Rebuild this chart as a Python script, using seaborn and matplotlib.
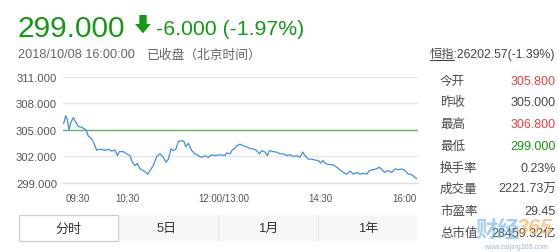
import matplotlib
matplotlib.use("Agg")
import matplotlib.pyplot as plt
import matplotlib.transforms as mtransforms
from matplotlib.patches import Rectangle, Polygon
from matplotlib.lines import Line2D
import seaborn as sns
import pandas as pd

# ---------------- data ----------------
minutes = [0, 1, 2.5, 4, 5.6, 7.5, 9.6, 11.8, 14.3, 17.4, 20.5, 22, 23.6, 26.8, 29.2,
           31.4, 32.9, 36.1, 39.2, 42.9, 45.4, 48.5, 50.7, 52.5, 56.3, 59.4, 62.5,
           64.7, 67.2, 69.3, 71.8, 74.9, 77.4, 79, 81.2, 84.3, 87.4, 90.5, 93.6, 96.1,
           98.3, 100.8, 102.9, 105.4, 107.6, 110.1, 112.9, 114.5, 116.9, 120.1, 123.2,
           126.2, 129.4, 132.5, 135.6, 138.7, 141.8, 146.5, 151.1, 152.7, 155.8, 158,
           160.5, 162, 165.1, 168.2, 171.4, 174.5, 177.6, 180.7, 183.2, 185.4, 188.5,
           190.7, 192.5, 196.2, 199.4, 202.5, 205.5, 208.7, 211.8, 214.9, 218, 221.1,
           223.6, 225.8, 228.9, 232, 235.1, 238.2, 240.4, 242.3, 244.4, 247.5, 252.2,
           255.3, 258.4, 261.5, 264.7, 267.8, 270.9, 274, 277.1, 280.2, 283.4, 285.8,
           289, 292.7, 295.1, 297.4, 300.4, 303.5, 306.7, 309.8, 312.8, 316, 319.1,
           322.2, 324.4, 326.8, 330]
prices = [305.7, 305.87, 306.6, 306.2, 305.0, 305.9, 306.4, 305.9, 305.4, 305.3, 305.1,
          304.9, 304.3, 304.0, 303.4, 302.7, 302.8, 302.8, 302.7, 302.8, 302.6, 302.75,
          302.1, 302.55, 302.55, 302.3, 302.1, 301.35, 300.98, 301.2, 300.6, 300.4,
          300.2, 300.0, 300.4, 301.0, 302.0, 302.3, 301.9, 301.35, 301.7, 302.86, 302.67,
          302.86, 303.7, 303.8, 303.7, 303.1, 303.5, 302.67, 302.3, 302.1, 301.9, 302.1,
          301.9, 302.2, 302.1, 302.2, 302.1, 302.4, 302.3, 302.75, 302.95, 303.2, 303.4,
          303.2, 303.1, 302.9, 302.86, 302.67, 302.3, 302.67, 302.5, 302.1, 302.67,
          302.55, 302.5, 302.3, 302.3, 302.1, 302.2, 302.0, 302.1, 301.9, 302.5, 302.1,
          301.7, 301.7, 301.6, 301.55, 301.25, 301.55, 301.25, 301.1, 301.05, 300.8,
          300.5, 300.2, 300.0, 300.35, 300.0, 300.2, 300.0, 300.1, 300.0, 300.4, 300.5,
          300.6, 300.8, 300.5, 300.2, 300.4, 300.2, 300.6, 300.5, 300.6, 300.4, 300.0,
          300.0, 299.8, 299.5]
prev_close = 305.0
y_ticks = [299, 302, 305, 308, 311]
x_tick_pos = [0, 60, 150, 240, 330]
x_tick_labels = ["09:30", "10:30", "12:00/13:00", "14:30", "16:00"]

last_price = "299.000"
change_text = "-6.000 (-1.97%)"
date_text = "2018/10/08 16:00:00"
status_text = "已收盘（北京时间）"
index_name = "恒指"
index_value = ":26202.57(-1.39%)"
stat_labels = ["今开", "昨收", "最高", "最低", "换手率", "成交量", "市盈率", "总市值"]
stat_values = ["305.800", "305.000", "306.800", "299.000", "0.23%", "2221.73万", "29.45", "28459.32亿"]
stat_kinds = ["up", "flat", "up", "down", "flat", "flat", "flat", "flat"]
tabs = ["分时", "5日", "1月", "1年"]

# ---------------- style ----------------
sns.set_style("white")
plt.rcParams["font.family"] = ["Liberation Sans", "Noto Sans CJK SC", "DejaVu Sans"]

W, H = 558, 253
GREEN = "#129a12"
RED = "#ef3e3e"
GRAY = "#4a4a4a"

fig = plt.figure(figsize=(W / 100, H / 100), dpi=100)
fig.patch.set_facecolor("white")


def fx(x):
    return x / W


def fy(y):
    return 1 - y / H


ax = fig.add_axes([fx(63), fy(184), (418 - 63) / W, (184 - 78) / H])
df = pd.DataFrame({"minute": minutes, "price": prices})
ax.axhline(prev_close, color="#66b85c", lw=1.0, zorder=2)
sns.lineplot(data=df, x="minute", y="price", ax=ax, color="#3d8ef0", lw=0.9, zorder=3)

ax.set_xlim(0, 331.2)
ax.set_ylim(299, 311)
ax.set_yticks(y_ticks)
ax.set_yticklabels([f"{v:.3f}" for v in y_ticks])
ax.grid(axis="y", color="#e6e6e6", lw=1.0, zorder=0)
ax.grid(axis="x", visible=False)
ax.set_xlabel("")
ax.set_ylabel("")
for s in ["top", "right", "left"]:
    ax.spines[s].set_visible(False)
ax.spines["bottom"].set_color("#dddddd")
ax.spines["bottom"].set_linewidth(1.0)
ax.tick_params(axis="y", length=0, pad=4.3, labelsize=8.1, labelcolor="#555555")
ax.set_xticks(x_tick_pos)
ax.set_xticklabels(x_tick_labels)
ax.tick_params(axis="x", direction="out", length=2.8, width=0.8, color="#cccccc",
               pad=4.2, labelsize=7.0, labelcolor="#555555")
xl = ax.get_xticklabels()
xl[0].set_ha("left")
xl[0].set_transform(xl[0].get_transform() + mtransforms.ScaledTranslation(3 / 100, 0, fig.dpi_scale_trans))
xl[-1].set_ha("right")

# ---------------- header ----------------
fig.text(fx(17.5), fy(36.7), last_price, color=GREEN, fontsize=21.5, va="baseline", ha="left")
arrow = Polygon([(fx(139.3), fy(16)), (fx(146.7), fy(16)), (fx(146.7), fy(25)), (fx(150.7), fy(25)),
                 (fx(143), fy(34.3)), (fx(135), fy(25)), (fx(139.3), fy(25))],
                closed=True, transform=fig.transFigure, color=GREEN, lw=0)
fig.patches.append(arrow)
fig.text(fx(156), fy(35.2), change_text, color=GREEN, fontsize=15.3, va="baseline", ha="left")
fig.text(fx(18), fy(58.3), date_text, color="#666666", fontsize=9.2, va="baseline", ha="left")
fig.text(fx(146.7), fy(58.3), status_text, color="#666666", fontsize=9.2, va="baseline", ha="left")
fig.text(fx(430), fy(58.3), index_name + index_value, color="#444444", fontsize=8.8, va="baseline", ha="left")
fig.lines.append(Line2D([fx(430), fx(454)], [fy(61), fy(61)], transform=fig.transFigure,
                        color="#444444", lw=0.8))

# ---------------- stats panel ----------------
kind_color = {"up": RED, "down": GREEN, "flat": GRAY}
for i, (lab, val, kind) in enumerate(zip(stat_labels, stat_values, stat_kinds)):
    yc = 81.7 + i * 21.7
    fig.text(fx(440), fy(yc), lab, color=GRAY, fontsize=9, va="center", ha="left")
    fig.text(fx(556), fy(yc), val, color=kind_color[kind], fontsize=9, va="center", ha="right")

# ---------------- tabs ----------------
fig.patches.append(Rectangle((fx(118), fy(242)), (417 - 118) / W, 26 / H, transform=fig.transFigure,
                             facecolor="#f6f6f6", edgecolor="none"))
for sx in [218.3, 317.7]:
    fig.lines.append(Line2D([fx(sx), fx(sx)], [fy(216), fy(242)], transform=fig.transFigure,
                            color="#e6e6e6", lw=0.8))
fig.patches.append(Rectangle((fx(18.5), fy(241.5)), 99.5 / W, 25.5 / H, transform=fig.transFigure,
                             facecolor="white", edgecolor="#cfcfcf", lw=0.9))
for lab, cx in zip(tabs, [68.3, 166.7, 268.3, 368.3]):
    fig.text(fx(cx), fy(229.3), lab, color="#333333", fontsize=9.4, va="center", ha="center")

# ---------------- watermark ----------------
fig.text(fx(475), fy(231), "财经", color="#5aa9e6", alpha=0.55, fontsize=16, fontweight="bold",
         va="center", ha="left", style="italic")
fig.text(fx(517), fy(229), "365", color="#f6a43c", alpha=0.6, fontsize=15.5, fontweight="bold",
         va="center", ha="left", style="italic")
fig.text(fx(516), fy(247.5), "www.caijing365.com", color="#7fa7c9", alpha=0.8, fontsize=5,
         va="center", ha="center")

fig.savefig("out.png", dpi=100)
